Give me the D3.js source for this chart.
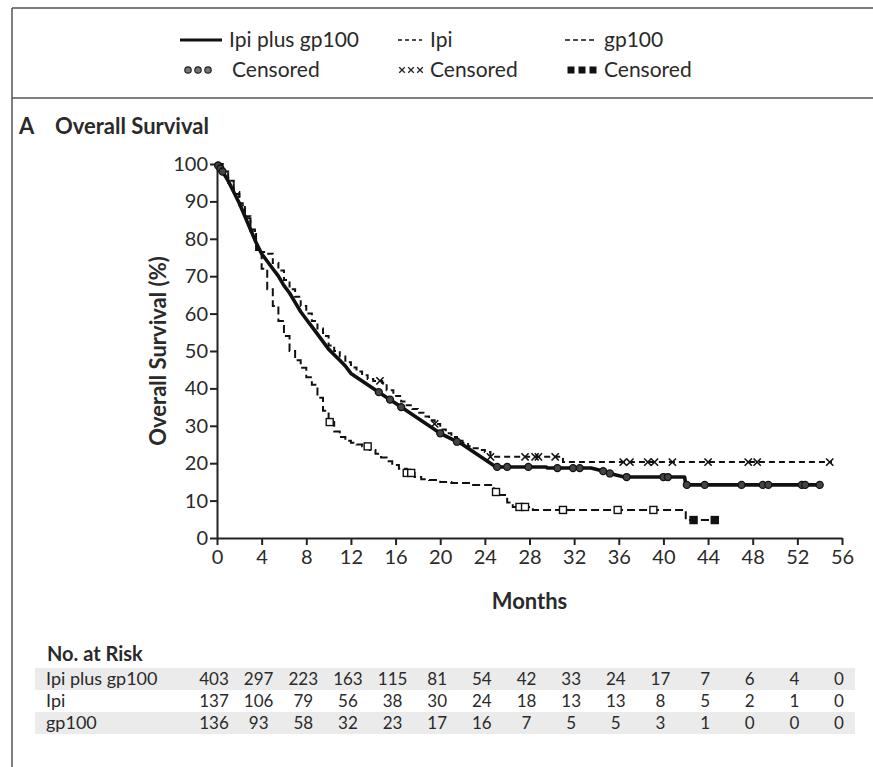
<!DOCTYPE html>
<html>
<head>
<meta charset="utf-8">
<script src="https://cdn.jsdelivr.net/npm/d3@7"></script>
<style>
  body { margin: 0; background: #fff; }
  text { font-family: Lato, "Open Sans", sans-serif; fill: #2a2a2a; }
</style>
</head>
<body>
<svg id="chart" width="873" height="767"></svg>
<script>
// Kaplan-Meier curves, [month, overall survival %]
const ipiGpCurve = [[0,100],[0.5,98],[1,95.5],[1.5,92.5],[2,89.5],[2.5,86],[3,82.5],[3.5,79],[4,76],[4.5,74],
  [5,72],[5.5,70],[6,67.5],[6.5,65.5],[7,63],[7.5,60.5],[8,58.5],[8.5,56.5],[9,54.5],[9.5,52.5],[10,50.5],
  [10.5,49],[11,47.5],[11.5,46],[12,44],[12.5,43],[13,42],[13.5,41],[14,40],[15,38],[16,36],[17,34],[18,32],
  [19,30],[20,28],[21,26.5],[22,25],[23,23],[24,21],[24.5,20],[25,19],[29.5,19],[29.6,18.7],[33.5,18.7],
  [34.5,18],[35,17.4],[36.5,16.3],[41.9,16.3],[42,14.2],[54.2,14.2]];
const ipiCurve = [[0,100],[0.5,98],[1,95.5],[1.5,92.5],[2,89.5],[2.5,86],[3,82.5],[3.4,79.5],[3.6,76.5],
  [4.5,76],[5,73.5],[5.5,71.5],[6,69],[6.5,66.5],[7,64.5],[7.5,62],[8,60],[8.5,58],[9,56],[9.5,54],[10,51.5],
  [10.5,50],[11,48.5],[11.5,47],[12,45.6],[12.5,44.5],[13,43.5],[13.5,42.5],[14,42],[14.8,41.5],[15.2,39.5],
  [15.8,38],[16.5,36.5],[17,35.5],[17.5,34.5],[18,33.5],[18.5,32.5],[19,31.5],[19.5,30.5],[20,29],[20.5,28],
  [21,27],[21.5,26],[22,25.5],[22.5,24.5],[23,24],[23.5,23.5],[24,23],[24.5,21.7],[31,20.3],[55.1,20.3]];
const gpCurve = [[0,100],[0.5,98],[1,95],[1.5,92],[2,89],[2.5,85.5],[3,82],[3.5,77],[4,72],[4.5,66.5],[5,62],
  [5.5,58],[6,54],[6.5,50],[7,47.5],[7.5,45.5],[8,43],[8.5,41],[9,37.5],[9.5,34],[10,31],[10.5,28.5],[11,27],
  [11.5,26],[12,25.5],[12.5,25],[13,24.5],[13.7,23.5],[14.2,22.5],[14.7,21.5],[15.2,20.5],[15.7,19.5],
  [16.3,18.5],[17,17.4],[17.7,16.3],[18.3,15.7],[19,15.5],[20,15],[21,14.7],[22.7,14.2],[24.8,12.3],
  [25.2,11.5],[26,9.5],[26.5,8.3],[28.3,7.5],[42,4.8],[44.8,4.8]];

// Censoring times (months)
const ipiGpCensor = [0.1,0.3,0.5,14.5,15.5,16.5,20,21.5,25.1,26,27.9,30.5,31.9,32.5,34.6,35.2,36.7,
  40,40.4,42.1,43.7,47,48.9,49.4,52.4,52.7,54];
const ipiCensor = [14.6,19.5,24.5,27.6,28.5,28.8,30.3,36.4,37,38.6,39.2,40.8,44,47.6,48.4,54.9];
const gpCensor = [10.1,13.5,17,17.4,25,27.1,27.6,31,35.9,39.1,42.7,44.6];

// Number at risk table
const riskGroups = ["Ipi plus gp100", "Ipi", "gp100"];
const riskIpiGp = [403,297,223,163,115,81,54,42,33,24,17,7,6,4,0];
const riskIpi = [137,106,79,56,38,30,24,18,13,13,8,5,2,1,0];
const riskGp = [136,93,58,32,23,17,16,7,5,5,3,1,0,0,0];

const xTickValues = [0,4,8,12,16,20,24,28,32,36,40,44,48,52,56];
const yTickValues = [0,10,20,30,40,50,60,70,80,90,100];

let svg = d3.select("#chart");

// Outer frame: top, left, and legend separator
svg.append("line").attr("x1", 12).attr("x2", 873).attr("y1", 8).attr("y2", 8)
    .attr("stroke", "#555").attr("stroke-width", 1.5);
svg.append("line").attr("x1", 12).attr("x2", 12).attr("y1", 8).attr("y2", 767)
    .attr("stroke", "#555").attr("stroke-width", 1.5);
svg.append("line").attr("x1", 12).attr("x2", 873).attr("y1", 98).attr("y2", 98)
    .attr("stroke", "#555").attr("stroke-width", 1.5);

// Scales
let x = d3.scaleLinear().domain([0, 56]).range([217, 842]);
let y = d3.scaleLinear().domain([0, 100]).range([538, 164]);

// Step lookup of survival at a given month
function survAt(curve, m) {
    let v = curve[0][1];
    curve.forEach(function(p) { if (p[0] <= m) v = p[1]; });
    return v;
}
// Linear lookup (for the large-N arm drawn as a smooth line)
function survLin(curve, m) {
    for (let i = 1; i < curve.length; i++) {
        if (curve[i][0] >= m) {
            let a = curve[i - 1], b = curve[i];
            return a[1] + (b[1] - a[1]) * (m - a[0]) / (b[0] - a[0]);
        }
    }
    return curve[curve.length - 1][1];
}

// Axes
let xAxis = svg.append("g")
    .attr("transform", `translate(0, ${y(0)})`)
    .call(d3.axisBottom(x).tickValues(xTickValues).tickSize(7).tickSizeOuter(0).tickPadding(5));
let yAxis = svg.append("g")
    .attr("transform", `translate(${x(0)}, 0)`)
    .call(d3.axisLeft(y).tickValues(yTickValues).tickSize(7).tickSizeOuter(0).tickPadding(2));
[xAxis, yAxis].forEach(function(a) {
    a.select(".domain").attr("stroke", "#222").attr("stroke-width", 2);
    a.selectAll(".tick line").attr("stroke", "#222").attr("stroke-width", 2);
    a.selectAll(".tick text").style("font-size", "20px").attr("fill", "#333");
});

// Curves
let stepLine = d3.line()
    .x(function(d) { return x(d[0]); })
    .y(function(d) { return y(d[1]); })
    .curve(d3.curveStepAfter);
let smoothLine = d3.line()
    .x(function(d) { return x(d[0]); })
    .y(function(d) { return y(d[1]); });

svg.append("path").datum(gpCurve).attr("d", stepLine)
    .attr("fill", "none").attr("stroke", "#111").attr("stroke-width", 2).attr("stroke-dasharray", "8,4");
svg.append("path").datum(ipiCurve).attr("d", stepLine)
    .attr("fill", "none").attr("stroke", "#111").attr("stroke-width", 2).attr("stroke-dasharray", "6,4");
svg.append("path").datum(ipiGpCurve).attr("d", smoothLine)
    .attr("fill", "none").attr("stroke", "#111").attr("stroke-width", 3.6).attr("stroke-linejoin", "round");

// Censor marks
svg.append("g").selectAll("circle").data(ipiGpCensor).enter()
    .append("circle")
    .attr("cx", function(d) { return x(d); })
    .attr("cy", function(d) { return y(survLin(ipiGpCurve, d)); })
    .attr("r", 3.5)
    .attr("fill", "#444").attr("stroke", "#111").attr("stroke-width", 1.3);

svg.append("g").selectAll("path").data(ipiCensor).enter()
    .append("path")
    .attr("transform", function(d) { return `translate(${x(d)}, ${y(survAt(ipiCurve, d))})`; })
    .attr("d", d3.symbol(d3.symbolX, 36))
    .attr("fill", "none").attr("stroke", "#111").attr("stroke-width", 1.6);

svg.append("g").selectAll("rect").data(gpCensor).enter()
    .append("rect")
    .attr("x", function(d) { return x(d) - 3.5; })
    .attr("y", function(d) { return y(survAt(gpCurve, d)) - 3.5; })
    .attr("width", 7).attr("height", 7)
    .attr("fill", function(d) { return d > 42 ? "#111" : "#fff"; })
    .attr("stroke", "#111").attr("stroke-width", 1.4);

// Panel title and axis labels
let title = svg.append("text").attr("x", 19).attr("y", 134)
    .style("font-size", "22px").style("font-weight", "bold");
title.append("tspan").text("A");
title.append("tspan").attr("x", 55).text("Overall Survival");

svg.append("text")
    .attr("transform", `translate(166, ${y(50)}) rotate(-90)`)
    .style("text-anchor", "middle").style("font-size", "22px").style("font-weight", "bold")
    .text("Overall Survival (%)");

svg.append("text")
    .attr("x", (x(0) + x(56)) / 2).attr("y", 609)
    .style("text-anchor", "middle").style("font-size", "22px").style("font-weight", "bold")
    .text("Months");

// Legend
let legend = svg.append("g");
legend.append("line").attr("x1", 180).attr("x2", 222).attr("y1", 40).attr("y2", 40)
    .attr("stroke", "#111").attr("stroke-width", 3);
legend.append("line").attr("x1", 398).attr("x2", 422).attr("y1", 40).attr("y2", 40)
    .attr("stroke", "#111").attr("stroke-width", 1.5).attr("stroke-dasharray", "4,3");
legend.append("line").attr("x1", 565).attr("x2", 597).attr("y1", 40).attr("y2", 40)
    .attr("stroke", "#111").attr("stroke-width", 1.5).attr("stroke-dasharray", "5,3");
[[229, "Ipi plus gp100"], [430, "Ipi"], [604, "gp100"]].forEach(function(t) {
    legend.append("text").attr("x", t[0]).attr("y", 47).style("font-size", "21px").text(t[1]);
});
[188, 198, 208].forEach(function(cx) {
    legend.append("circle").attr("cx", cx).attr("cy", 70).attr("r", 3.2)
        .attr("fill", "#777").attr("stroke", "#222").attr("stroke-width", 1.2);
});
[402, 411, 420].forEach(function(cx) {
    legend.append("path").attr("transform", `translate(${cx}, 70)`)
        .attr("d", d3.symbol(d3.symbolX, 22)).attr("fill", "none")
        .attr("stroke", "#222").attr("stroke-width", 1.3);
});
[571, 582, 593].forEach(function(cx) {
    legend.append("rect").attr("x", cx - 3.5).attr("y", 66.5).attr("width", 7).attr("height", 7)
        .attr("fill", "#111");
});
[232, 430, 604].forEach(function(tx) {
    legend.append("text").attr("x", tx).attr("y", 77).style("font-size", "21px").text("Censored");
});

// Number at risk table
svg.append("text").attr("x", 47).attr("y", 661)
    .style("font-size", "20px").style("font-weight", "bold").text("No. at Risk");

let riskRows = [riskIpiGp, riskIpi, riskGp];
let rowY = d3.scaleBand().domain(riskGroups).range([668, 734]);
let riskTable = svg.append("g");
riskTable.selectAll("rect").data(riskGroups.filter(function(g, i) { return i !== 1; })).enter()
    .append("rect")
    .attr("x", 35).attr("width", 820)
    .attr("y", function(d) { return rowY(d); })
    .attr("height", rowY.bandwidth())
    .attr("fill", "#ebebeb");
riskGroups.forEach(function(g, i) {
    let base = rowY(g) + rowY.bandwidth() / 2 + 6;
    riskTable.append("text").attr("x", 46).attr("y", base).style("font-size", "18px").text(g);
    riskTable.selectAll(null).data(riskRows[i]).enter()
        .append("text")
        .attr("x", function(d, j) { return x(xTickValues[j]) - 3; })
        .attr("y", base)
        .style("text-anchor", "middle").style("font-size", "17px")
        .text(function(d) { return d; });
});
</script>
</body>
</html>
